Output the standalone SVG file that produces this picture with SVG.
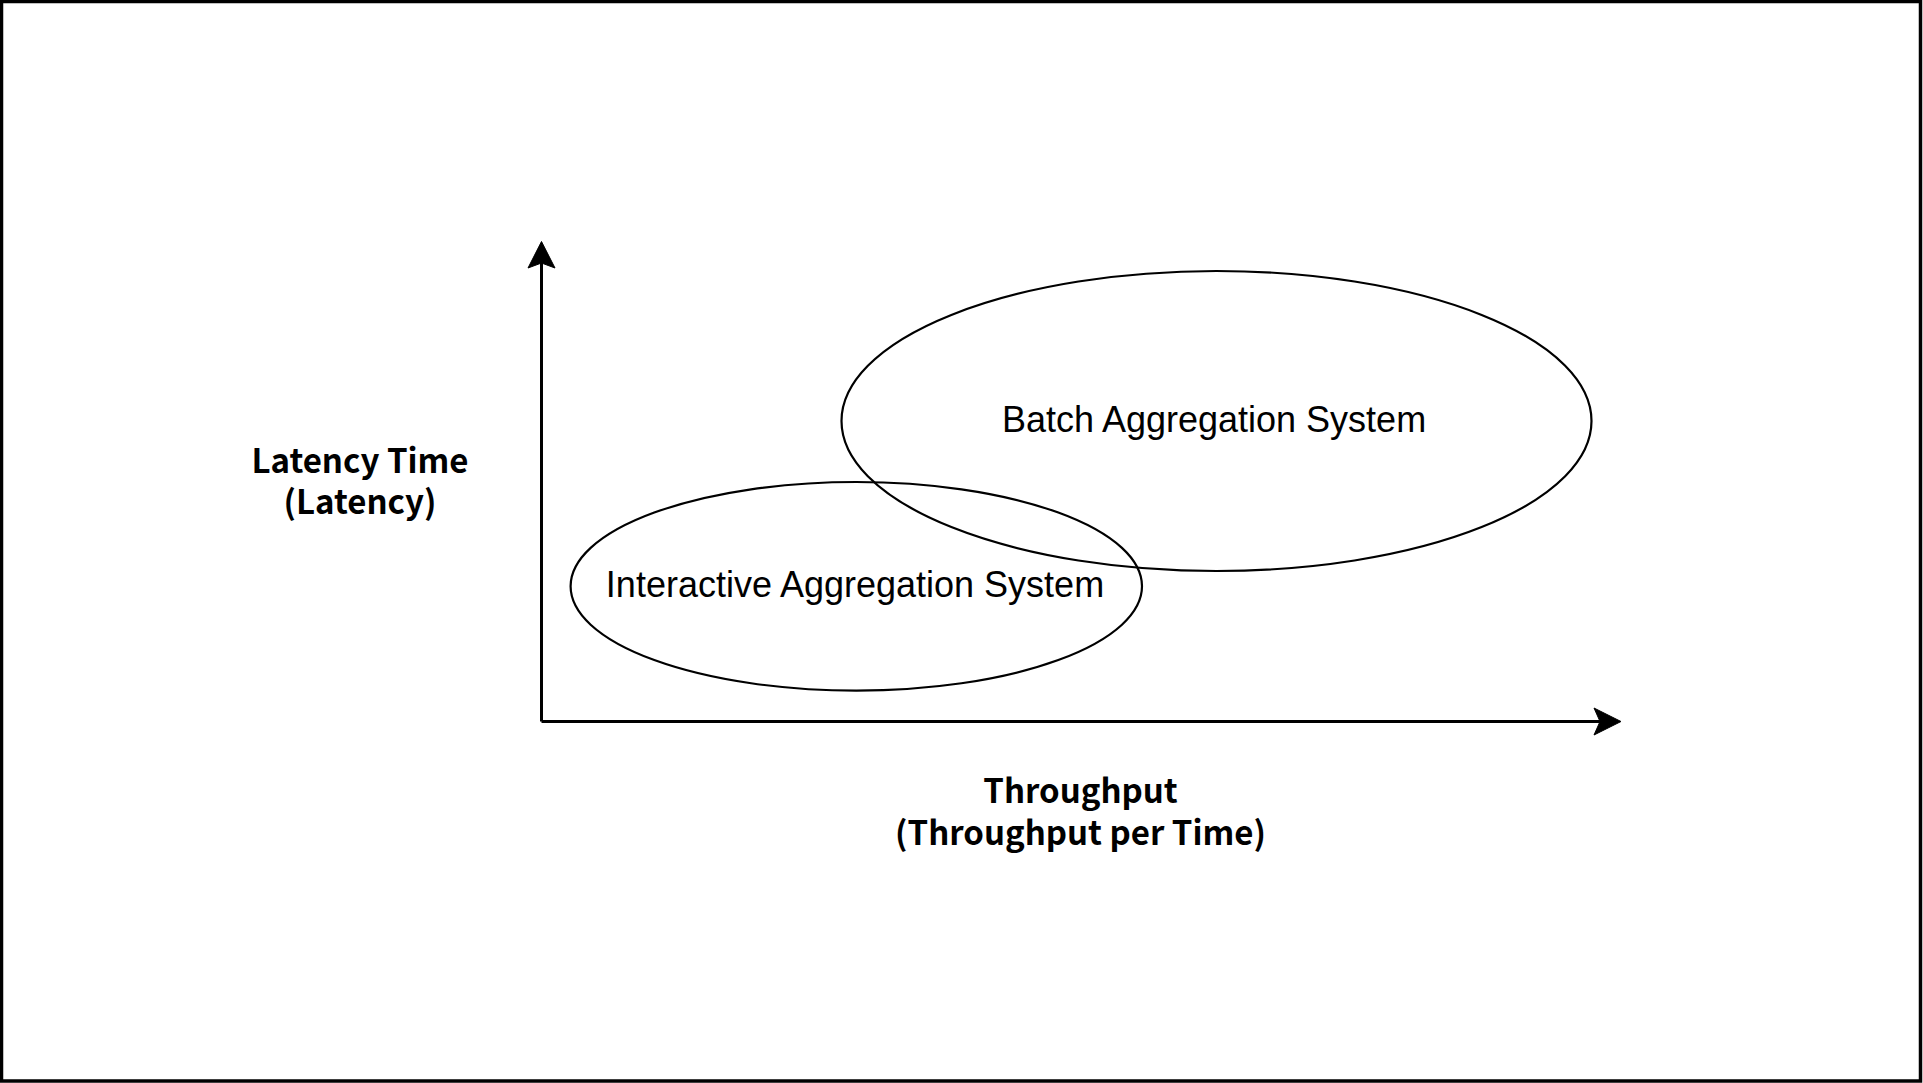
<svg xmlns="http://www.w3.org/2000/svg" width="1923" height="1083" viewBox="0 0 1923 1083">
<style>
.ell{fill:none;stroke:#000;stroke-width:2.2}
.axis{fill:none;stroke:#000;stroke-width:3}
.head{fill:#000;stroke:#000;stroke-width:1}
.lbl{font-family:"Liberation Sans",Arial,sans-serif;font-size:36px;fill:#000;text-anchor:middle}
.ax{font-family:"Noto Sans CJK KR","Noto Sans",sans-serif;font-weight:bold;font-size:33px;fill:#000;text-anchor:middle}
</style>
<rect x="0" y="0" width="1923" height="1083" fill="#fff"/>
<rect x="1.5" y="1.5" width="1919" height="1079.5" fill="none" stroke="#000" stroke-width="3.5"/>
<g id="connectors">
<path class="axis" d="M541.5,721.5 L541.5,262"/>
<path class="head" d="M541.5,241.5 L555,268 L541.5,263 L528,268 Z"/>
<path class="axis" d="M541.5,721.5 L1601,721.5"/>
<path class="head" d="M1621,721.5 L1594,735 L1600,721.5 L1594,708 Z"/>
</g>
<g id="node-batch">
<ellipse class="ell" cx="1216.5" cy="421" rx="375" ry="150"/>
<text class="lbl" x="1214" y="432">Batch Aggregation System</text>
</g>
<g id="node-interactive">
<ellipse class="ell" cx="856.3" cy="586.3" rx="285.7" ry="104.3"/>
<text class="lbl" x="855" y="597">Interactive Aggregation System</text>
</g>
<g id="label-latency">
<text class="ax"><tspan x="360" y="473">Latency Time</tspan><tspan x="360" y="514">(Latency)</tspan></text>
</g>
<g id="label-throughput">
<text class="ax"><tspan x="1080.5" y="803">Throughput</tspan><tspan x="1080.5" y="845">(Throughput per Time)</tspan></text>
</g>
</svg>
